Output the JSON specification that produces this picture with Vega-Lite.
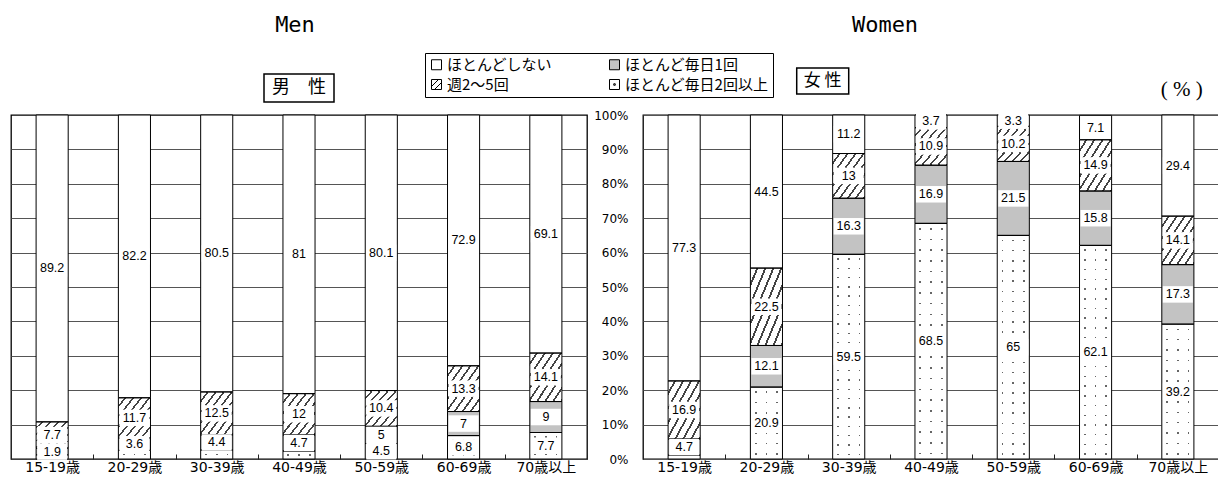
{
  "$schema": "https://vega.github.io/schema/vega-lite/v6.json",
  "background": "white",
  "padding": {"left": 9, "top": 13, "right": 0, "bottom": 2},
  "bounds": "flush",
  "spacing": 56,
  "resolve": {"scale": {"fill": "shared", "x": "independent", "y": "independent"}},
  "config": {
    "view": {"stroke": "#000", "strokeWidth": 1.3},
    "font": "DejaVu Sans, Noto Sans CJK JP",
    "title": {"font": "DejaVu Sans Mono", "fontSize": 22, "fontWeight": "normal", "color": "#000"},
    "axis": {"labelColor": "#000", "domain": false, "gridColor": "#555", "gridWidth": 1, "tickColor": "#222", "labelOverlap": false}
  },
  "datasets": {
    "survey": [
      {"sex": "Men", "age": "15-19歳", "cat": "ほとんどしない", "value": 89.2},
      {"sex": "Men", "age": "15-19歳", "cat": "週2〜5回", "value": 7.7},
      {"sex": "Men", "age": "15-19歳", "cat": "ほとんど毎日1回", "value": 1.9},
      {"sex": "Men", "age": "15-19歳", "cat": "ほとんど毎日2回以上", "value": 1.2},
      {"sex": "Men", "age": "20-29歳", "cat": "ほとんどしない", "value": 82.2},
      {"sex": "Men", "age": "20-29歳", "cat": "週2〜5回", "value": 11.7},
      {"sex": "Men", "age": "20-29歳", "cat": "ほとんど毎日1回", "value": 3.6},
      {"sex": "Men", "age": "20-29歳", "cat": "ほとんど毎日2回以上", "value": 2.5},
      {"sex": "Men", "age": "30-39歳", "cat": "ほとんどしない", "value": 80.5},
      {"sex": "Men", "age": "30-39歳", "cat": "週2〜5回", "value": 12.5},
      {"sex": "Men", "age": "30-39歳", "cat": "ほとんど毎日1回", "value": 4.4},
      {"sex": "Men", "age": "30-39歳", "cat": "ほとんど毎日2回以上", "value": 2.6},
      {"sex": "Men", "age": "40-49歳", "cat": "ほとんどしない", "value": 81},
      {"sex": "Men", "age": "40-49歳", "cat": "週2〜5回", "value": 12},
      {"sex": "Men", "age": "40-49歳", "cat": "ほとんど毎日1回", "value": 4.7},
      {"sex": "Men", "age": "40-49歳", "cat": "ほとんど毎日2回以上", "value": 2.3},
      {"sex": "Men", "age": "50-59歳", "cat": "ほとんどしない", "value": 80.1},
      {"sex": "Men", "age": "50-59歳", "cat": "週2〜5回", "value": 10.4},
      {"sex": "Men", "age": "50-59歳", "cat": "ほとんど毎日1回", "value": 5},
      {"sex": "Men", "age": "50-59歳", "cat": "ほとんど毎日2回以上", "value": 4.5},
      {"sex": "Men", "age": "60-69歳", "cat": "ほとんどしない", "value": 72.9},
      {"sex": "Men", "age": "60-69歳", "cat": "週2〜5回", "value": 13.3},
      {"sex": "Men", "age": "60-69歳", "cat": "ほとんど毎日1回", "value": 7},
      {"sex": "Men", "age": "60-69歳", "cat": "ほとんど毎日2回以上", "value": 6.8},
      {"sex": "Men", "age": "70歳以上", "cat": "ほとんどしない", "value": 69.1},
      {"sex": "Men", "age": "70歳以上", "cat": "週2〜5回", "value": 14.1},
      {"sex": "Men", "age": "70歳以上", "cat": "ほとんど毎日1回", "value": 9},
      {"sex": "Men", "age": "70歳以上", "cat": "ほとんど毎日2回以上", "value": 7.7},
      {"sex": "Women", "age": "15-19歳", "cat": "ほとんどしない", "value": 77.3},
      {"sex": "Women", "age": "15-19歳", "cat": "週2〜5回", "value": 16.9},
      {"sex": "Women", "age": "15-19歳", "cat": "ほとんど毎日1回", "value": 4.7},
      {"sex": "Women", "age": "15-19歳", "cat": "ほとんど毎日2回以上", "value": 1.1},
      {"sex": "Women", "age": "20-29歳", "cat": "ほとんどしない", "value": 44.5},
      {"sex": "Women", "age": "20-29歳", "cat": "週2〜5回", "value": 22.5},
      {"sex": "Women", "age": "20-29歳", "cat": "ほとんど毎日1回", "value": 12.1},
      {"sex": "Women", "age": "20-29歳", "cat": "ほとんど毎日2回以上", "value": 20.9},
      {"sex": "Women", "age": "30-39歳", "cat": "ほとんどしない", "value": 11.2},
      {"sex": "Women", "age": "30-39歳", "cat": "週2〜5回", "value": 13},
      {"sex": "Women", "age": "30-39歳", "cat": "ほとんど毎日1回", "value": 16.3},
      {"sex": "Women", "age": "30-39歳", "cat": "ほとんど毎日2回以上", "value": 59.5},
      {"sex": "Women", "age": "40-49歳", "cat": "ほとんどしない", "value": 3.7},
      {"sex": "Women", "age": "40-49歳", "cat": "週2〜5回", "value": 10.9},
      {"sex": "Women", "age": "40-49歳", "cat": "ほとんど毎日1回", "value": 16.9},
      {"sex": "Women", "age": "40-49歳", "cat": "ほとんど毎日2回以上", "value": 68.5},
      {"sex": "Women", "age": "50-59歳", "cat": "ほとんどしない", "value": 3.3},
      {"sex": "Women", "age": "50-59歳", "cat": "週2〜5回", "value": 10.2},
      {"sex": "Women", "age": "50-59歳", "cat": "ほとんど毎日1回", "value": 21.5},
      {"sex": "Women", "age": "50-59歳", "cat": "ほとんど毎日2回以上", "value": 65},
      {"sex": "Women", "age": "60-69歳", "cat": "ほとんどしない", "value": 7.1},
      {"sex": "Women", "age": "60-69歳", "cat": "週2〜5回", "value": 14.9},
      {"sex": "Women", "age": "60-69歳", "cat": "ほとんど毎日1回", "value": 15.8},
      {"sex": "Women", "age": "60-69歳", "cat": "ほとんど毎日2回以上", "value": 62.1},
      {"sex": "Women", "age": "70歳以上", "cat": "ほとんどしない", "value": 29.4},
      {"sex": "Women", "age": "70歳以上", "cat": "週2〜5回", "value": 14.1},
      {"sex": "Women", "age": "70歳以上", "cat": "ほとんど毎日1回", "value": 17.3},
      {"sex": "Women", "age": "70歳以上", "cat": "ほとんど毎日2回以上", "value": 39.2}
    ]
  },
  "hconcat": [
    {
      "width": 576,
      "height": 344,
      "title": {"text": "Men", "offset": 34, "dx": -4},
      "layer": [
        {
          "data": {"name": "survey"},
          "transform": [
            {"filter": "datum.sex === 'Men'"},
            {"calculate": "indexof(['ほとんど毎日2回以上','ほとんど毎日1回','週2〜5回','ほとんどしない'], datum.cat)", "as": "ord"},
            {"stack": "value", "groupby": ["age"], "sort": [{"field": "ord", "order": "ascending"}], "as": ["y0", "y1"]},
            {"calculate": "(datum.y0 + datum.y1) / 2", "as": "ymid"}
          ],
          "encoding": {
            "x": {
              "field": "age", "type": "nominal",
              "scale": {"domain": ["15-19歳", "20-29歳", "30-39歳", "40-49歳", "50-59歳", "60-69歳", "70歳以上"], "paddingInner": 0, "paddingOuter": 0},
              "axis": {"title": null, "labelAngle": 0, "ticks": true, "tickBand": "extent", "tickSize": -5, "labelPadding": 6, "labelFont": "DejaVu Sans, Noto Sans CJK JP", "labelFontSize": 14, "grid": false}
            }
          },
          "layer": [
            {
              "mark": {"type": "bar", "width": {"band": 0.39}},
              "encoding": {
                "y": {"field": "y0", "type": "quantitative", "scale": {"domain": [0, 100], "nice": false},
                      "axis": {"title": null, "labels": false, "ticks": false, "grid": true, "tickCount": 12, "values": [10, 20, 30, 40, 50, 60, 70, 80, 90]}},
                "y2": {"field": "y1"},
                "fill": {
                  "field": "cat", "type": "nominal",
                  "scale": {"domain": ["ほとんどしない", "ほとんど毎日1回", "週2〜5回", "ほとんど毎日2回以上"], "range": ["#ffffff", "#c3c3c3", "#ffffff", "#ffffff"]},
                  "legend": {
                    "title": null, "orient": "none", "legendX": 414, "legendY": -62,
                    "columns": 2, "direction": "horizontal",
                    "symbolType": "square", "symbolSize": 100, "symbolStrokeColor": "#000", "symbolStrokeWidth": 1,
                    "labelFont": "Noto Sans CJK JP", "labelFontSize": 15, "labelColor": "#000", "labelOffset": 3, "labelLimit": 260,
                    "columnPadding": 54, "rowPadding": 4, "padding": 4, "strokeColor": "#000", "fillColor": "#fff",
                    "encode": {"symbols": {"update": {
                      "stroke": {"value": "#000"},
                      "strokeWidth": {"value": 1},
                      "opacity": {"value": 1},
                      "shape": {"signal": "datum.value === '週2〜5回' ? 'M-1,-1L1,-1L1,1L-1,1Z M-1,0.4L0.4,-1 M-0.4,1L1,-0.4' : datum.value === 'ほとんど毎日2回以上' ? 'M-1,-1L1,-1L1,1L-1,1Z M-0.15,-0.15L0.15,-0.15L0.15,0.15L-0.15,0.15Z' : 'square'"}
                    }}}
                  }
                }
              }
            },
            {
              "transform": [{"filter": "datum.cat === '週2〜5回'"}],
              "mark": {"type": "bar", "width": {"band": 0.39}, "fill": {"gradient": "linear", "x1": 0, "y1": 0, "x2": 1, "y2": 1, "stops": [
                {"offset": 0, "color": "#fff"}, {"offset": 0.0938, "color": "#fff"}, {"offset": 0.0938, "color": "#444"}, {"offset": 0.125, "color": "#444"},
                {"offset": 0.125, "color": "#fff"}, {"offset": 0.2188, "color": "#fff"}, {"offset": 0.2188, "color": "#444"}, {"offset": 0.25, "color": "#444"},
                {"offset": 0.25, "color": "#fff"}, {"offset": 0.3438, "color": "#fff"}, {"offset": 0.3438, "color": "#444"}, {"offset": 0.375, "color": "#444"},
                {"offset": 0.375, "color": "#fff"}, {"offset": 0.4688, "color": "#fff"}, {"offset": 0.4688, "color": "#444"}, {"offset": 0.5, "color": "#444"},
                {"offset": 0.5, "color": "#fff"}, {"offset": 0.5938, "color": "#fff"}, {"offset": 0.5938, "color": "#444"}, {"offset": 0.625, "color": "#444"},
                {"offset": 0.625, "color": "#fff"}, {"offset": 0.7188, "color": "#fff"}, {"offset": 0.7188, "color": "#444"}, {"offset": 0.75, "color": "#444"},
                {"offset": 0.75, "color": "#fff"}, {"offset": 0.8438, "color": "#fff"}, {"offset": 0.8438, "color": "#444"}, {"offset": 0.875, "color": "#444"},
                {"offset": 0.875, "color": "#fff"}, {"offset": 0.9688, "color": "#fff"}, {"offset": 0.9688, "color": "#444"}, {"offset": 1, "color": "#444"}]}},
              "encoding": {"y": {"field": "y0", "type": "quantitative"}, "y2": {"field": "y1"}}
            },
            {
              "transform": [{"filter": "datum.cat === 'ほとんど毎日2回以上'"}],
              "mark": {"type": "bar", "width": {"band": 0.39}, "fill": {"gradient": "linear", "x1": 0, "y1": 0, "x2": 1, "y2": 0, "stops": [
                {"offset": 0, "color": "#fff"}, {"offset": 0.14, "color": "#fff"}, {"offset": 0.14, "color": "#666"}, {"offset": 0.1933, "color": "#666"}, {"offset": 0.1933, "color": "#fff"},
                {"offset": 0.4733, "color": "#fff"}, {"offset": 0.4733, "color": "#666"}, {"offset": 0.5267, "color": "#666"}, {"offset": 0.5267, "color": "#fff"},
                {"offset": 0.8067, "color": "#fff"}, {"offset": 0.8067, "color": "#666"}, {"offset": 0.86, "color": "#666"}, {"offset": 0.86, "color": "#fff"}, {"offset": 1, "color": "#fff"}]}},
              "encoding": {"y": {"field": "y0", "type": "quantitative"}, "y2": {"field": "y1"}}
            },
            {
              "transform": [{"filter": "datum.cat === 'ほとんど毎日2回以上'"}],
              "mark": {"type": "bar", "width": {"band": 0.39}},
              "encoding": {
                "y": {"field": "y0", "type": "quantitative"}, "y2": {"field": "y1"},
                "fill": {
                  "condition": [
                    {"test": "datum.value < 5", "value": {"gradient": "linear", "x1": 0, "y1": 0, "x2": 0, "y2": 1, "stops": [
                      {"offset": 0, "color": "#fff"}, {"offset": 0.42, "color": "#fff"}, {"offset": 0.42, "color": "rgba(255,255,255,0)"}, {"offset": 0.58, "color": "rgba(255,255,255,0)"}, {"offset": 0.58, "color": "#fff"}, {"offset": 1, "color": "#fff"}]}}
                  ],
                  "value": {"gradient": "linear", "x1": 0, "y1": 0, "x2": 0, "y2": 1, "stops": [
                    {"offset": 0, "color": "#fff"}, {"offset": 0.14, "color": "#fff"}, {"offset": 0.14, "color": "rgba(255,255,255,0)"}, {"offset": 0.1933, "color": "rgba(255,255,255,0)"}, {"offset": 0.1933, "color": "#fff"},
                    {"offset": 0.4733, "color": "#fff"}, {"offset": 0.4733, "color": "rgba(255,255,255,0)"}, {"offset": 0.5267, "color": "rgba(255,255,255,0)"}, {"offset": 0.5267, "color": "#fff"},
                    {"offset": 0.8067, "color": "#fff"}, {"offset": 0.8067, "color": "rgba(255,255,255,0)"}, {"offset": 0.86, "color": "rgba(255,255,255,0)"}, {"offset": 0.86, "color": "#fff"}, {"offset": 1, "color": "#fff"}]}
                }
              }
            },
            {
              "mark": {"type": "bar", "width": {"band": 0.39}, "fill": "#fff", "fillOpacity": 0, "stroke": "#000", "strokeWidth": 1},
              "encoding": {"y": {"field": "y0", "type": "quantitative"}, "y2": {"field": "y1"}}
            },
            {
              "transform": [{"filter": "!(datum.cat === 'ほとんど毎日2回以上' && datum.value < 3)"}],
              "mark": {"type": "point", "shape": "M-1,-0.55L1,-0.55L1,0.55L-1,0.55Z", "size": 900, "filled": true, "fill": "#fff", "opacity": 1, "strokeWidth": 0},
              "encoding": {"y": {"field": "ymid", "type": "quantitative"}}
            },
            {
              "transform": [{"filter": "!(datum.cat === 'ほとんど毎日2回以上' && datum.value < 3)"}],
              "mark": {"type": "text", "font": "Liberation Sans", "fontSize": 12.5, "color": "#000"},
              "encoding": {"y": {"field": "ymid", "type": "quantitative"}, "text": {"field": "value", "type": "quantitative", "format": "~g"}}
            }
          ]
        },
        {
          "data": {"values": [{"label": "男　性"}]},
          "encoding": {
            "x": {"datum": "40-49歳", "type": "nominal", "scale": {"domain": ["15-19歳", "20-29歳", "30-39歳", "40-49歳", "50-59歳", "60-69歳", "70歳以上"]}},
            "y": {"datum": 107.85, "type": "quantitative", "scale": {"domain": [0, 100]}}
          },
          "layer": [
            {"mark": {"type": "point", "shape": "M-1,-0.4L1,-0.4L1,0.4L-1,0.4Z", "size": 4900, "filled": true, "fill": "#fff", "stroke": "#000", "strokeWidth": 1.5, "opacity": 1}},
            {"mark": {"type": "text", "font": "Noto Sans CJK JP", "fontSize": 18, "color": "#000"}, "encoding": {"text": {"field": "label"}}}
          ]
        }
      ]
    },
    {
      "width": 576,
      "height": 344,
      "title": {"text": "Women", "offset": 28, "dx": -46},
      "layer": [
        {
          "data": {"name": "survey"},
          "transform": [
            {"filter": "datum.sex === 'Women'"},
            {"calculate": "indexof(['ほとんど毎日2回以上','ほとんど毎日1回','週2〜5回','ほとんどしない'], datum.cat)", "as": "ord"},
            {"stack": "value", "groupby": ["age"], "sort": [{"field": "ord", "order": "ascending"}], "as": ["y0", "y1"]},
            {"calculate": "(datum.y0 + datum.y1) / 2", "as": "ymid"}
          ],
          "encoding": {
            "x": {
              "field": "age", "type": "nominal",
              "scale": {"domain": ["15-19歳", "20-29歳", "30-39歳", "40-49歳", "50-59歳", "60-69歳", "70歳以上"], "paddingInner": 0, "paddingOuter": 0},
              "axis": {"title": null, "labelAngle": 0, "ticks": true, "tickBand": "extent", "tickSize": -5, "labelPadding": 6, "labelFont": "DejaVu Sans, Noto Sans CJK JP", "labelFontSize": 14, "grid": false}
            }
          },
          "layer": [
            {
              "mark": {"type": "bar", "width": {"band": 0.39}},
              "encoding": {
                "y": {"field": "y0", "type": "quantitative", "scale": {"domain": [0, 100], "nice": false},
                      "axis": {"title": null, "labels": true, "ticks": false, "grid": true, "tickCount": 12, "values": [0, 10, 20, 30, 40, 50, 60, 70, 80, 90, 100],
                               "labelExpr": "datum.value + '%'", "labelOverlap": false, "labelPadding": 15, "labelFont": "DejaVu Sans", "labelFontSize": 12}},
                "y2": {"field": "y1"},
                "fill": {
                  "field": "cat", "type": "nominal",
                  "scale": {"domain": ["ほとんどしない", "ほとんど毎日1回", "週2〜5回", "ほとんど毎日2回以上"], "range": ["#ffffff", "#c3c3c3", "#ffffff", "#ffffff"]}
                }
              }
            },
            {
              "transform": [{"filter": "datum.cat === '週2〜5回'"}],
              "mark": {"type": "bar", "width": {"band": 0.39}, "fill": {"gradient": "linear", "x1": 0, "y1": 0, "x2": 1, "y2": 1, "stops": [
                {"offset": 0, "color": "#fff"}, {"offset": 0.0938, "color": "#fff"}, {"offset": 0.0938, "color": "#444"}, {"offset": 0.125, "color": "#444"},
                {"offset": 0.125, "color": "#fff"}, {"offset": 0.2188, "color": "#fff"}, {"offset": 0.2188, "color": "#444"}, {"offset": 0.25, "color": "#444"},
                {"offset": 0.25, "color": "#fff"}, {"offset": 0.3438, "color": "#fff"}, {"offset": 0.3438, "color": "#444"}, {"offset": 0.375, "color": "#444"},
                {"offset": 0.375, "color": "#fff"}, {"offset": 0.4688, "color": "#fff"}, {"offset": 0.4688, "color": "#444"}, {"offset": 0.5, "color": "#444"},
                {"offset": 0.5, "color": "#fff"}, {"offset": 0.5938, "color": "#fff"}, {"offset": 0.5938, "color": "#444"}, {"offset": 0.625, "color": "#444"},
                {"offset": 0.625, "color": "#fff"}, {"offset": 0.7188, "color": "#fff"}, {"offset": 0.7188, "color": "#444"}, {"offset": 0.75, "color": "#444"},
                {"offset": 0.75, "color": "#fff"}, {"offset": 0.8438, "color": "#fff"}, {"offset": 0.8438, "color": "#444"}, {"offset": 0.875, "color": "#444"},
                {"offset": 0.875, "color": "#fff"}, {"offset": 0.9688, "color": "#fff"}, {"offset": 0.9688, "color": "#444"}, {"offset": 1, "color": "#444"}]}},
              "encoding": {"y": {"field": "y0", "type": "quantitative"}, "y2": {"field": "y1"}}
            },
            {
              "transform": [{"filter": "datum.cat === 'ほとんど毎日2回以上'"}],
              "mark": {"type": "bar", "width": {"band": 0.39}, "fill": {"gradient": "linear", "x1": 0, "y1": 0, "x2": 1, "y2": 0, "stops": [
                {"offset": 0, "color": "#fff"}, {"offset": 0.14, "color": "#fff"}, {"offset": 0.14, "color": "#666"}, {"offset": 0.1933, "color": "#666"}, {"offset": 0.1933, "color": "#fff"},
                {"offset": 0.4733, "color": "#fff"}, {"offset": 0.4733, "color": "#666"}, {"offset": 0.5267, "color": "#666"}, {"offset": 0.5267, "color": "#fff"},
                {"offset": 0.8067, "color": "#fff"}, {"offset": 0.8067, "color": "#666"}, {"offset": 0.86, "color": "#666"}, {"offset": 0.86, "color": "#fff"}, {"offset": 1, "color": "#fff"}]}},
              "encoding": {"y": {"field": "y0", "type": "quantitative"}, "y2": {"field": "y1"}}
            },
            {
              "transform": [{"filter": "datum.cat === 'ほとんど毎日2回以上'"}],
              "mark": {"type": "bar", "width": {"band": 0.39}},
              "encoding": {
                "y": {"field": "y0", "type": "quantitative"}, "y2": {"field": "y1"},
                "fill": {
                  "condition": [
                    {"test": "datum.value < 5", "value": {"gradient": "linear", "x1": 0, "y1": 0, "x2": 0, "y2": 1, "stops": [
                      {"offset": 0, "color": "#fff"}, {"offset": 0.42, "color": "#fff"}, {"offset": 0.42, "color": "rgba(255,255,255,0)"}, {"offset": 0.58, "color": "rgba(255,255,255,0)"}, {"offset": 0.58, "color": "#fff"}, {"offset": 1, "color": "#fff"}]}},
                    {"test": "datum.value < 30", "value": {"gradient": "linear", "x1": 0, "y1": 0, "x2": 0, "y2": 1, "stops": [
                      {"offset": 0, "color": "#fff"},
                      {"offset": 0.0607, "color": "#fff"}, {"offset": 0.0607, "color": "rgba(255,255,255,0)"}, {"offset": 0.0821, "color": "rgba(255,255,255,0)"}, {"offset": 0.0821, "color": "#fff"},
                      {"offset": 0.2036, "color": "#fff"}, {"offset": 0.2036, "color": "rgba(255,255,255,0)"}, {"offset": 0.225, "color": "rgba(255,255,255,0)"}, {"offset": 0.225, "color": "#fff"},
                      {"offset": 0.3464, "color": "#fff"}, {"offset": 0.3464, "color": "rgba(255,255,255,0)"}, {"offset": 0.3679, "color": "rgba(255,255,255,0)"}, {"offset": 0.3679, "color": "#fff"},
                      {"offset": 0.4893, "color": "#fff"}, {"offset": 0.4893, "color": "rgba(255,255,255,0)"}, {"offset": 0.5107, "color": "rgba(255,255,255,0)"}, {"offset": 0.5107, "color": "#fff"},
                      {"offset": 0.6321, "color": "#fff"}, {"offset": 0.6321, "color": "rgba(255,255,255,0)"}, {"offset": 0.6536, "color": "rgba(255,255,255,0)"}, {"offset": 0.6536, "color": "#fff"},
                      {"offset": 0.775, "color": "#fff"}, {"offset": 0.775, "color": "rgba(255,255,255,0)"}, {"offset": 0.7964, "color": "rgba(255,255,255,0)"}, {"offset": 0.7964, "color": "#fff"},
                      {"offset": 0.9179, "color": "#fff"}, {"offset": 0.9179, "color": "rgba(255,255,255,0)"}, {"offset": 0.9393, "color": "rgba(255,255,255,0)"}, {"offset": 0.9393, "color": "#fff"},
                      {"offset": 1, "color": "#fff"}]}},
                    {"test": "datum.value < 50", "value": {"gradient": "linear", "x1": 0, "y1": 0, "x2": 0, "y2": 1, "stops": [
                      {"offset": 0, "color": "#fff"},
                      {"offset": 0.0327, "color": "#fff"}, {"offset": 0.0327, "color": "rgba(255,255,255,0)"}, {"offset": 0.0442, "color": "rgba(255,255,255,0)"}, {"offset": 0.0442, "color": "#fff"},
                      {"offset": 0.1096, "color": "#fff"}, {"offset": 0.1096, "color": "rgba(255,255,255,0)"}, {"offset": 0.1212, "color": "rgba(255,255,255,0)"}, {"offset": 0.1212, "color": "#fff"},
                      {"offset": 0.1865, "color": "#fff"}, {"offset": 0.1865, "color": "rgba(255,255,255,0)"}, {"offset": 0.1981, "color": "rgba(255,255,255,0)"}, {"offset": 0.1981, "color": "#fff"},
                      {"offset": 0.2635, "color": "#fff"}, {"offset": 0.2635, "color": "rgba(255,255,255,0)"}, {"offset": 0.275, "color": "rgba(255,255,255,0)"}, {"offset": 0.275, "color": "#fff"},
                      {"offset": 0.3404, "color": "#fff"}, {"offset": 0.3404, "color": "rgba(255,255,255,0)"}, {"offset": 0.3519, "color": "rgba(255,255,255,0)"}, {"offset": 0.3519, "color": "#fff"},
                      {"offset": 0.4173, "color": "#fff"}, {"offset": 0.4173, "color": "rgba(255,255,255,0)"}, {"offset": 0.4288, "color": "rgba(255,255,255,0)"}, {"offset": 0.4288, "color": "#fff"},
                      {"offset": 0.4942, "color": "#fff"}, {"offset": 0.4942, "color": "rgba(255,255,255,0)"}, {"offset": 0.5058, "color": "rgba(255,255,255,0)"}, {"offset": 0.5058, "color": "#fff"},
                      {"offset": 0.5712, "color": "#fff"}, {"offset": 0.5712, "color": "rgba(255,255,255,0)"}, {"offset": 0.5827, "color": "rgba(255,255,255,0)"}, {"offset": 0.5827, "color": "#fff"},
                      {"offset": 0.6481, "color": "#fff"}, {"offset": 0.6481, "color": "rgba(255,255,255,0)"}, {"offset": 0.6596, "color": "rgba(255,255,255,0)"}, {"offset": 0.6596, "color": "#fff"},
                      {"offset": 0.725, "color": "#fff"}, {"offset": 0.725, "color": "rgba(255,255,255,0)"}, {"offset": 0.7365, "color": "rgba(255,255,255,0)"}, {"offset": 0.7365, "color": "#fff"},
                      {"offset": 0.8019, "color": "#fff"}, {"offset": 0.8019, "color": "rgba(255,255,255,0)"}, {"offset": 0.8135, "color": "rgba(255,255,255,0)"}, {"offset": 0.8135, "color": "#fff"},
                      {"offset": 0.8788, "color": "#fff"}, {"offset": 0.8788, "color": "rgba(255,255,255,0)"}, {"offset": 0.8904, "color": "rgba(255,255,255,0)"}, {"offset": 0.8904, "color": "#fff"},
                      {"offset": 0.9558, "color": "#fff"}, {"offset": 0.9558, "color": "rgba(255,255,255,0)"}, {"offset": 0.9673, "color": "rgba(255,255,255,0)"}, {"offset": 0.9673, "color": "#fff"},
                      {"offset": 1, "color": "#fff"}]}}
                  ],
                  "value": {"gradient": "linear", "x1": 0, "y1": 0, "x2": 0, "y2": 1, "stops": [
                    {"offset": 0, "color": "#fff"},
                    {"offset": 0.0193, "color": "#fff"}, {"offset": 0.0193, "color": "rgba(255,255,255,0)"}, {"offset": 0.0261, "color": "rgba(255,255,255,0)"}, {"offset": 0.0261, "color": "#fff"},
                    {"offset": 0.0648, "color": "#fff"}, {"offset": 0.0648, "color": "rgba(255,255,255,0)"}, {"offset": 0.0716, "color": "rgba(255,255,255,0)"}, {"offset": 0.0716, "color": "#fff"},
                    {"offset": 0.1102, "color": "#fff"}, {"offset": 0.1102, "color": "rgba(255,255,255,0)"}, {"offset": 0.117, "color": "rgba(255,255,255,0)"}, {"offset": 0.117, "color": "#fff"},
                    {"offset": 0.1557, "color": "#fff"}, {"offset": 0.1557, "color": "rgba(255,255,255,0)"}, {"offset": 0.1625, "color": "rgba(255,255,255,0)"}, {"offset": 0.1625, "color": "#fff"},
                    {"offset": 0.2011, "color": "#fff"}, {"offset": 0.2011, "color": "rgba(255,255,255,0)"}, {"offset": 0.208, "color": "rgba(255,255,255,0)"}, {"offset": 0.208, "color": "#fff"},
                    {"offset": 0.2466, "color": "#fff"}, {"offset": 0.2466, "color": "rgba(255,255,255,0)"}, {"offset": 0.2534, "color": "rgba(255,255,255,0)"}, {"offset": 0.2534, "color": "#fff"},
                    {"offset": 0.292, "color": "#fff"}, {"offset": 0.292, "color": "rgba(255,255,255,0)"}, {"offset": 0.2989, "color": "rgba(255,255,255,0)"}, {"offset": 0.2989, "color": "#fff"},
                    {"offset": 0.3375, "color": "#fff"}, {"offset": 0.3375, "color": "rgba(255,255,255,0)"}, {"offset": 0.3443, "color": "rgba(255,255,255,0)"}, {"offset": 0.3443, "color": "#fff"},
                    {"offset": 0.383, "color": "#fff"}, {"offset": 0.383, "color": "rgba(255,255,255,0)"}, {"offset": 0.3898, "color": "rgba(255,255,255,0)"}, {"offset": 0.3898, "color": "#fff"},
                    {"offset": 0.4284, "color": "#fff"}, {"offset": 0.4284, "color": "rgba(255,255,255,0)"}, {"offset": 0.4352, "color": "rgba(255,255,255,0)"}, {"offset": 0.4352, "color": "#fff"},
                    {"offset": 0.4739, "color": "#fff"}, {"offset": 0.4739, "color": "rgba(255,255,255,0)"}, {"offset": 0.4807, "color": "rgba(255,255,255,0)"}, {"offset": 0.4807, "color": "#fff"},
                    {"offset": 0.5193, "color": "#fff"}, {"offset": 0.5193, "color": "rgba(255,255,255,0)"}, {"offset": 0.5261, "color": "rgba(255,255,255,0)"}, {"offset": 0.5261, "color": "#fff"},
                    {"offset": 0.5648, "color": "#fff"}, {"offset": 0.5648, "color": "rgba(255,255,255,0)"}, {"offset": 0.5716, "color": "rgba(255,255,255,0)"}, {"offset": 0.5716, "color": "#fff"},
                    {"offset": 0.6102, "color": "#fff"}, {"offset": 0.6102, "color": "rgba(255,255,255,0)"}, {"offset": 0.617, "color": "rgba(255,255,255,0)"}, {"offset": 0.617, "color": "#fff"},
                    {"offset": 0.6557, "color": "#fff"}, {"offset": 0.6557, "color": "rgba(255,255,255,0)"}, {"offset": 0.6625, "color": "rgba(255,255,255,0)"}, {"offset": 0.6625, "color": "#fff"},
                    {"offset": 0.7011, "color": "#fff"}, {"offset": 0.7011, "color": "rgba(255,255,255,0)"}, {"offset": 0.708, "color": "rgba(255,255,255,0)"}, {"offset": 0.708, "color": "#fff"},
                    {"offset": 0.7466, "color": "#fff"}, {"offset": 0.7466, "color": "rgba(255,255,255,0)"}, {"offset": 0.7534, "color": "rgba(255,255,255,0)"}, {"offset": 0.7534, "color": "#fff"},
                    {"offset": 0.792, "color": "#fff"}, {"offset": 0.792, "color": "rgba(255,255,255,0)"}, {"offset": 0.7989, "color": "rgba(255,255,255,0)"}, {"offset": 0.7989, "color": "#fff"},
                    {"offset": 0.8375, "color": "#fff"}, {"offset": 0.8375, "color": "rgba(255,255,255,0)"}, {"offset": 0.8443, "color": "rgba(255,255,255,0)"}, {"offset": 0.8443, "color": "#fff"},
                    {"offset": 0.883, "color": "#fff"}, {"offset": 0.883, "color": "rgba(255,255,255,0)"}, {"offset": 0.8898, "color": "rgba(255,255,255,0)"}, {"offset": 0.8898, "color": "#fff"},
                    {"offset": 0.9284, "color": "#fff"}, {"offset": 0.9284, "color": "rgba(255,255,255,0)"}, {"offset": 0.9352, "color": "rgba(255,255,255,0)"}, {"offset": 0.9352, "color": "#fff"},
                    {"offset": 0.9739, "color": "#fff"}, {"offset": 0.9739, "color": "rgba(255,255,255,0)"}, {"offset": 0.9807, "color": "rgba(255,255,255,0)"}, {"offset": 0.9807, "color": "#fff"},
                    {"offset": 1, "color": "#fff"}]}
                }
              }
            },
            {
              "mark": {"type": "bar", "width": {"band": 0.39}, "fill": "#fff", "fillOpacity": 0, "stroke": "#000", "strokeWidth": 1},
              "encoding": {"y": {"field": "y0", "type": "quantitative"}, "y2": {"field": "y1"}}
            },
            {
              "transform": [{"filter": "!(datum.cat === 'ほとんど毎日2回以上' && datum.value < 3)"}],
              "mark": {"type": "point", "shape": "M-1,-0.55L1,-0.55L1,0.55L-1,0.55Z", "size": 900, "filled": true, "fill": "#fff", "opacity": 1, "strokeWidth": 0},
              "encoding": {"y": {"field": "ymid", "type": "quantitative"}}
            },
            {
              "transform": [{"filter": "!(datum.cat === 'ほとんど毎日2回以上' && datum.value < 3)"}],
              "mark": {"type": "text", "font": "Liberation Sans", "fontSize": 12.5, "color": "#000"},
              "encoding": {"y": {"field": "ymid", "type": "quantitative"}, "text": {"field": "value", "type": "quantitative", "format": "~g"}}
            }
          ]
        },
        {
          "data": {"values": [{"label": "女 性"}]},
          "encoding": {
            "x": {"datum": "30-39歳", "type": "nominal", "scale": {"domain": ["15-19歳", "20-29歳", "30-39歳", "40-49歳", "50-59歳", "60-69歳", "70歳以上"]}},
            "y": {"datum": 109.9, "type": "quantitative", "scale": {"domain": [0, 100]}}
          },
          "layer": [
            {"mark": {"type": "point", "shape": "M-1,-0.5L1,-0.5L1,0.5L-1,0.5Z", "size": 2704, "filled": true, "fill": "#fff", "stroke": "#000", "strokeWidth": 1.5, "opacity": 1, "xOffset": -26}},
            {"mark": {"type": "text", "font": "Noto Sans CJK JP", "fontSize": 17, "color": "#000", "xOffset": -26}, "encoding": {"text": {"field": "label"}}}
          ]
        },
        {
          "data": {"values": [{"label": "( % )"}]},
          "mark": {"type": "text", "font": "Liberation Serif", "fontSize": 21, "color": "#000", "xOffset": 4},
          "encoding": {
            "x": {"datum": "70歳以上", "type": "nominal", "scale": {"domain": ["15-19歳", "20-29歳", "30-39歳", "40-49歳", "50-59歳", "60-69歳", "70歳以上"]}},
            "y": {"datum": 107.3, "type": "quantitative", "scale": {"domain": [0, 100]}},
            "text": {"field": "label"}
          }
        }
      ]
    }
  ]
}
